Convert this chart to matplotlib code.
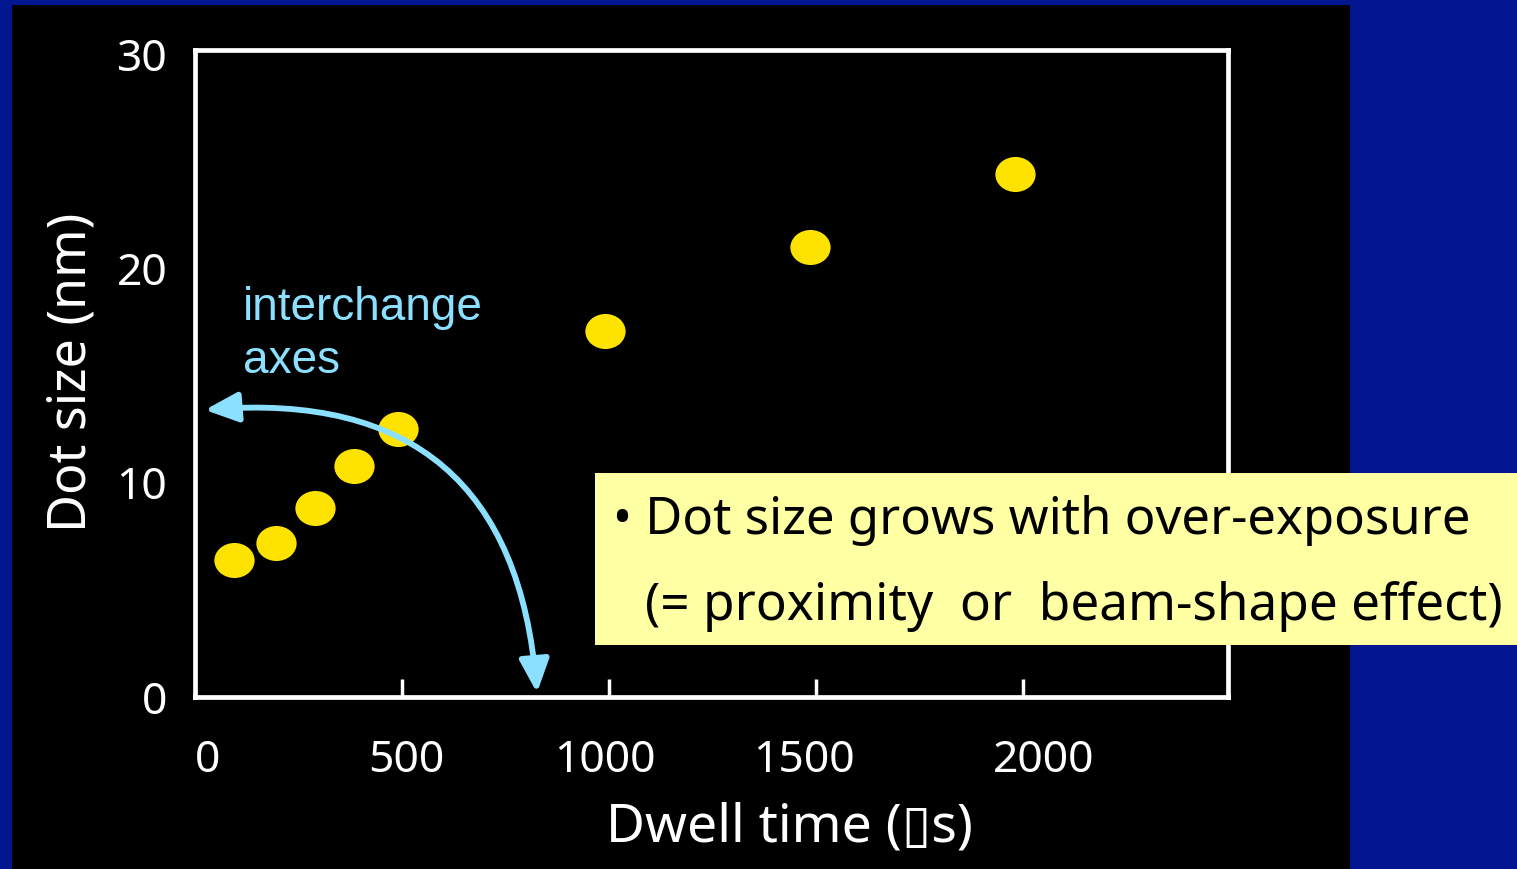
import numpy as np
import matplotlib.pyplot as plt
from matplotlib.patches import Rectangle, FancyArrowPatch
from matplotlib.path import Path

# Data
dwell_time = [95, 195, 290, 385, 490, 990, 1485, 1980]          # x (µs)
dot_size = [6.4, 7.2, 8.8, 10.8, 12.5, 17.1, 21.0, 24.4]        # nm

x_ticks = [500, 1000, 1500, 2000]
x_tick_labels = ["0", "500", "1000", "1500", "2000"]
y_ticks = [0, 10, 20, 30]

# colours
blue_bg = "#021690"
dot_col = "#FFE300"
arrow_col = "#8CE0FF"
box_col = "#FFFFA3"

W, H = 1517, 869
fig = plt.figure(figsize=(W / 100, H / 100), dpi=100, facecolor=blue_bg)

# black slide panel
fig.patches.append(Rectangle((12 / W, 0), (1350 - 12) / W, (H - 5) / H,
                             transform=fig.transFigure, facecolor="black",
                             edgecolor="none", zorder=-5))

ax = fig.add_axes([195 / W, (H - 697) / H, (1228 - 195) / W, (697 - 50) / H])
ax.set_facecolor("none")
ax.set_xlim(0, 2495)
ax.set_ylim(0, 30.2)

for s in ax.spines.values():
    s.set_color("white")
    s.set_linewidth(3.4)

font = ["Noto Sans", "DejaVu Sans"]

# x axis: inward tick marks (minor) + shifted labels (major, no marks)
ax.set_xticks(x_ticks, minor=True)
ax.set_xticks([30, 510, 990, 1470, 2050])
ax.set_xticklabels(x_tick_labels)
ax.tick_params(axis="x", which="minor", direction="in", length=13, width=2.5,
               color="white")
ax.tick_params(axis="x", which="major", length=0, pad=30, labelcolor="white",
               labelsize=32)

# y axis: marks only at 10 and 20
ax.set_yticks(y_ticks)
ax.set_yticks([10, 20], minor=True)
ax.tick_params(axis="y", which="minor", direction="in", length=17, width=2.5,
               color="white")
ax.tick_params(axis="y", which="major", length=0, pad=20, labelcolor="white",
               labelsize=32)
for lab in ax.get_xticklabels() + ax.get_yticklabels():
    lab.set_fontfamily(font)

ax.set_xlabel("Dwell time (\u25afs)", fontsize=38.5, color="white", family=font)
ax.xaxis.set_label_coords((789 - 195) / (1228 - 195), -(828 - 697) / (697 - 50))
ax.xaxis.label.set_va("center")
ax.set_ylabel("Dot size (nm)", fontsize=37.5, color="white", family=font)
ax.yaxis.set_label_coords(-(195 - 72) / (1228 - 195), (697 - 372) / (697 - 50))
ax.yaxis.label.set_va("center")

# elliptical markers
circ = Path.unit_circle()
ell = Path(circ.vertices * np.array([1.0, 0.87]), circ.codes)
ax.plot(dwell_time, dot_size, linestyle="none", marker=ell, markersize=29,
        color=dot_col, markeredgewidth=0, zorder=3)

# curved double arrow "interchange axes"
arr = FancyArrowPatch((24, 13.4), (826, 0.2), connectionstyle="arc3,rad=-0.5",
                      arrowstyle="<|-|>,head_length=1.0,head_width=0.45",
                      mutation_scale=20, color=arrow_col, linewidth=4.2,
                      shrinkA=0, shrinkB=0, zorder=4, clip_on=False)
ax.add_patch(arr)
fig.text(243 / W, 1 - 308 / H, "interchange", color=arrow_col, fontsize=33,
         family="Liberation Sans", va="center", ha="left")
fig.text(243 / W, 1 - 361 / H, "axes", color=arrow_col, fontsize=33,
         family="Liberation Sans", va="center", ha="left")

# yellow note box
fig.patches.append(Rectangle((595 / W, (H - 645) / H), (W - 595) / W, 172 / H,
                             transform=fig.transFigure, facecolor=box_col,
                             edgecolor="none", zorder=10))
fig.text(613 / W, 1 - 520 / H, "\u2022 Dot size grows with over-exposure",
         color="black", fontsize=36.6, family=font, va="center", ha="left",
         zorder=11)
fig.text(645 / W, 1 - 606 / H, "(= proximity  or  beam-shape effect)",
         color="black", fontsize=36.9, family=font, va="center", ha="left",
         zorder=11)

fig.savefig("out.png", dpi=100, facecolor=fig.get_facecolor())
